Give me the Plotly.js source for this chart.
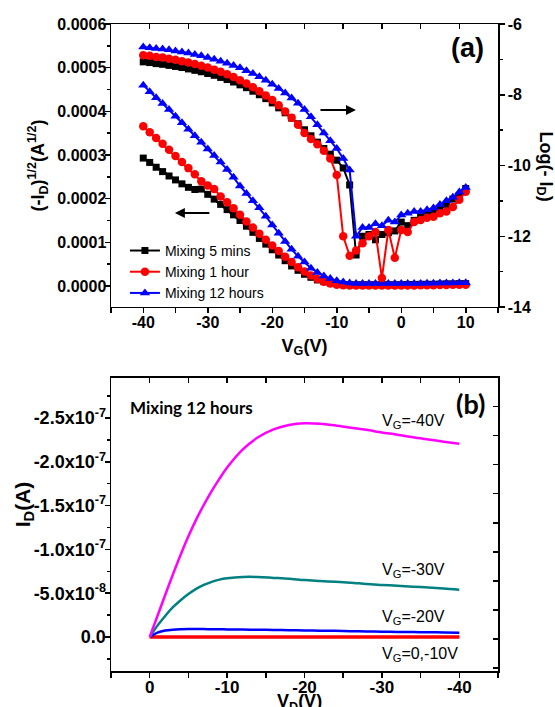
<!DOCTYPE html>
<html>
<head>
<meta charset="utf-8">
<script src="https://cdn.plot.ly/plotly-3.0.1.min.js"></script>
<style>html,body{margin:0;padding:0;background:#fff;}#chart{width:555px;height:707px;}</style>
</head>
<body>
<div id="chart"></div>
<script>
// ---------- Panel (a) data ----------
const vg = [-40,-39,-38,-37,-36,-35,-34,-33,-32,-31,-30,-29,-28,-27,-26,-25,-24,-23,-22,-21,-20,-19,-18,-17,-16,-15,-14,-13,-12,-11,-10,-9,-8,-7,-6,-5,-4,-3,-2,-1,0,1,2,3,4,5,6,7,8,9,10];
const seriesNames = ['Mixing 5 mins','Mixing 1 hour','Mixing 12 hours'];
// sqrt(-ID) in units of 1e-4 A^1/2
const sqrt5min = [2.93,2.83,2.72,2.62,2.52,2.43,2.34,2.26,2.21,2.22,2.10,1.99,1.87,1.75,1.63,1.50,1.37,1.23,1.09,0.96,0.83,0.71,0.58,0.46,0.36,0.27,0.20,0.14,0.10,0.07,0.05,0.035,0.03,0.03,0.03,0.03,0.03,0.03,0.03,0.03,0.03,0.035,0.035,0.04,0.04,0.04,0.045,0.05,0.05,0.055,0.055];
const sqrt1h = [3.66,3.52,3.39,3.26,3.12,2.98,2.84,2.70,2.56,2.40,2.30,2.22,2.05,1.92,1.78,1.63,1.48,1.34,1.20,1.06,0.93,0.80,0.67,0.55,0.43,0.33,0.24,0.16,0.10,0.06,0.03,0.02,0.01,0.01,0.01,0.01,0.01,0.01,0.01,0.01,0.015,0.015,0.015,0.02,0.02,0.02,0.025,0.025,0.03,0.03,0.03];
const sqrt12h = [4.60,4.45,4.31,4.18,4.04,3.89,3.74,3.59,3.44,3.29,3.14,2.99,2.84,2.67,2.49,2.29,2.12,1.95,1.79,1.60,1.40,1.21,1.02,0.84,0.68,0.55,0.41,0.31,0.23,0.17,0.12,0.09,0.07,0.06,0.06,0.06,0.06,0.06,0.06,0.06,0.06,0.06,0.06,0.06,0.065,0.065,0.07,0.07,0.07,0.075,0.075];
// log(-ID)
const log5min = [-7.07,-7.09,-7.12,-7.14,-7.17,-7.20,-7.23,-7.27,-7.31,-7.35,-7.40,-7.45,-7.51,-7.57,-7.64,-7.72,-7.80,-7.90,-8.00,-8.11,-8.23,-8.37,-8.51,-8.66,-8.82,-8.99,-9.16,-9.34,-9.52,-9.68,-9.85,-10.07,-10.55,-12.53,-12.0,-11.95,-12.1,-11.95,-11.9,-11.85,-11.6,-11.7,-11.55,-11.45,-11.4,-11.3,-11.2,-11.1,-10.95,-10.85,-10.65];
const log1h = [-6.88,-6.90,-6.93,-6.95,-6.98,-7.01,-7.05,-7.09,-7.13,-7.18,-7.23,-7.29,-7.35,-7.42,-7.50,-7.59,-7.68,-7.79,-7.90,-8.02,-8.15,-8.30,-8.47,-8.65,-8.85,-9.08,-9.25,-9.40,-9.58,-9.80,-10.27,-12.0,-12.55,-12.4,-12.2,-12.0,-11.88,-13.18,-11.82,-12.61,-11.82,-11.88,-11.6,-11.54,-11.48,-11.45,-11.35,-11.3,-11.17,-10.97,-10.74];
const log12h = [-6.65,-6.67,-6.69,-6.71,-6.73,-6.76,-6.79,-6.82,-6.86,-6.90,-6.95,-7.00,-7.05,-7.11,-7.17,-7.24,-7.32,-7.40,-7.49,-7.59,-7.70,-7.82,-7.95,-8.09,-8.24,-8.42,-8.62,-8.85,-9.08,-9.30,-9.52,-9.80,-10.13,-12.0,-11.75,-11.75,-11.65,-11.7,-11.55,-11.6,-11.4,-11.35,-11.3,-11.3,-11.25,-11.2,-11.1,-11.0,-10.9,-10.75,-10.62];
const aXTickVals = [-40,-30,-20,-10,0,10];
const aXTickText = ['-40','-30','-20','-10','0','10'];
const aY2TickVals = [-14,-12,-10,-8,-6];
const aY2TickText = ['-14','-12','-10','-8','-6'];

// ---------- Panel (b) data ----------
const vd = [0,-1,-2,-3,-4,-5,-6,-7,-8,-9,-10,-12,-14,-16,-18,-20,-22,-24,-26,-28,-30,-32,-34,-36,-38,-40];
const outputLabels = ['V<sub>G</sub>=-40V','V<sub>G</sub>=-30V','V<sub>G</sub>=-20V','V<sub>G</sub>=0,-10V'];
const id40 = [0,-0.24,-0.48,-0.715,-0.94,-1.15,-1.34,-1.51,-1.665,-1.805,-1.935,-2.14,-2.28,-2.37,-2.42,-2.44,-2.435,-2.415,-2.39,-2.365,-2.335,-2.31,-2.28,-2.255,-2.23,-2.205]; // 1e-7 A
const id30 = [0,-1.3,-2.4,-3.4,-4.2,-4.9,-5.5,-5.95,-6.3,-6.55,-6.7,-6.85,-6.85,-6.75,-6.65,-6.5,-6.4,-6.3,-6.2,-6.05,-5.95,-5.85,-5.75,-5.65,-5.55,-5.4]; // 1e-8 A
const id20 = [0,-0.5,-0.75,-0.84,-0.88,-0.9,-0.9,-0.9,-0.89,-0.88,-0.87,-0.85,-0.83,-0.8,-0.78,-0.75,-0.72,-0.7,-0.67,-0.64,-0.6,-0.58,-0.56,-0.54,-0.52,-0.5]; // 1e-8 A
const id10 = [0,-0.08,-0.1,-0.1,-0.1,-0.1,-0.1,-0.1,-0.1,-0.1,-0.1,-0.1,-0.1,-0.1,-0.1,-0.1,-0.1,-0.1,-0.1,-0.1,-0.1,-0.1,-0.1,-0.1,-0.1,-0.1]; // 1e-9 A
const id0 = [0,-0.02,-0.02,-0.02,-0.02,-0.02,-0.02,-0.02,-0.02,-0.02,-0.02,-0.02,-0.02,-0.02,-0.02,-0.02,-0.02,-0.02,-0.02,-0.02,-0.02,-0.02,-0.02,-0.02,-0.02,-0.02]; // 1e-9 A
const bXTickVals = [0,-10,-20,-30,-40];
const bXTickText = ['0','-10','-20','-30','-40'];
const bTickVals = [-2.5e-7,-2.0e-7,-1.5e-7,-1.0e-7,-5.0e-8,0];
const bTickText = ['-2.5x10<sup>-7</sup>','-2.0x10<sup>-7</sup>','-1.5x10<sup>-7</sup>','-1.0x10<sup>-7</sup>','-5.0x10<sup>-8</sup>','0.0'];

const FONT = "'Liberation Sans', Arial, sans-serif";
const CAL = "Lato, 'Open Sans', sans-serif";
const colors = ['#000000','#ff0000','#0000ff'];
const symbols = ['square','circle','triangle-up'];
const msizes = [7,8.5,9];
const sqrtSets = [sqrt5min, sqrt1h, sqrt12h];
const logSets = [log5min, log1h, log12h];

const traces = [];
for (let i = 0; i < 3; i++) {
  traces.push({
    x: vg, y: sqrtSets[i].map(v => v * 1e-4), xaxis: 'x', yaxis: 'y',
    type: 'scatter', mode: 'lines+markers', name: seriesNames[i], legendgroup: 'g' + i,
    line: {color: colors[i], width: 2}, marker: {symbol: symbols[i], size: msizes[i], color: colors[i]}
  });
}
for (let i = 0; i < 3; i++) {
  traces.push({
    x: vg, y: logSets[i], xaxis: 'x', yaxis: 'y2',
    type: 'scatter', mode: 'lines+markers', name: seriesNames[i], legendgroup: 'g' + i, showlegend: false,
    line: {color: colors[i], width: 2}, marker: {symbol: symbols[i], size: msizes[i], color: colors[i]}
  });
}
// empty helper traces so the frame / tick-only axes render
[['x3','y'],['x5','y'],['x','y5'],['x4','y3'],['x6','y3'],['x2','y6'],['x2','y4']].forEach(p =>
  traces.push({x: [], y: [], xaxis: p[0], yaxis: p[1], showlegend: false, hoverinfo: 'skip', type: 'scatter'}));

const bSets = [
  {y: id0.map(v => v * 1e-9), c: '#ff0000', w: 3},
  {y: id10.map(v => v * 1e-9), c: '#ff0000', w: 3},
  {y: id20.map(v => v * 1e-8), c: '#0000ff', w: 2.5},
  {y: id30.map(v => v * 1e-8), c: '#008080', w: 2.5},
  {y: id40.map(v => v * 1e-7), c: '#ff00ff', w: 2.5}
];
bSets.forEach(s => traces.push({
  x: vd, y: s.y, xaxis: 'x2', yaxis: 'y3', type: 'scatter', mode: 'lines',
  line: {color: s.c, width: s.w, shape: 'spline', smoothing: 0.8}, showlegend: false
}));

const tickF = {family: FONT, size: 16, color: '#000', weight: 'bold'};
const tickFb = {family: FONT, size: 18, color: '#000', weight: 'bold'};
const tickFbx = {family: FONT, size: 17, color: '#000', weight: 'bold'};
const frame = {showline: true, linecolor: '#000', linewidth: 1.5, showgrid: false, zeroline: false, tickcolor: '#000', tickwidth: 1.5};
const tickOnly = (extra) => Object.assign({}, frame, {showticklabels: false, ticks: 'outside', ticklen: 5}, extra);
const minorT = (m) => Object.assign({ticks: 'outside', ticklen: 3, tickcolor: '#000', tickwidth: 1.5}, m);
const labelOnly = {ticks: 'outside', ticklen: 0, tickcolor: 'rgba(0,0,0,0)'};

const layout = {
  width: 555, height: 707,
  margin: {l: 111, r: 57, t: 24, b: 36},
  paper_bgcolor: '#fff', plot_bgcolor: '#fff',
  font: {family: FONT, color: '#000'},
  showlegend: true,
  legend: {x: 0.036, y: 0.674, xanchor: 'left', yanchor: 'top', bgcolor: 'rgba(0,0,0,0)',
           font: {family: FONT, size: 14, color: '#000'}, itemwidth: 30, tracegroupgap: 0},
  // panel (a)
  xaxis: Object.assign({}, frame, labelOnly, {domain: [0, 1], anchor: 'y', range: [-45, 15], tickmode: 'array', tickvals: aXTickVals, ticktext: aXTickText,
    tickfont: tickF, title: {text: 'V<sub>G</sub>(V)', font: {family: FONT, size: 18, weight: 'bold', color: '#000'}, standoff: 9}}),
  xaxis5: tickOnly({overlaying: 'x', side: 'bottom', anchor: 'y', range: [-45, 15], tick0: 0, dtick: 5}),
  xaxis3: tickOnly({overlaying: 'x', side: 'top', anchor: 'y', range: [0, 10], tick0: 0, dtick: 1, ticks: 'inside'}),
  yaxis: Object.assign({}, frame, labelOnly, {domain: [0.5626, 1], anchor: 'x', range: [-0.000048, 0.0006], tick0: 0, dtick: 0.0001,
    tickformat: '.4f', tickfont: tickF,
    title: {text: '(-I<sub>D</sub>)<sup>1/2</sup>(A<sup>1/2</sup>)', font: {family: FONT, size: 18, weight: 'bold', color: '#000'}, standoff: 8}}),
  yaxis5: tickOnly({overlaying: 'y', side: 'left', anchor: 'x', range: [-0.000048, 0.0006], tick0: 0, dtick: 0.0001,
    minor: minorT({dtick: 0.00005, tick0: 0})}),
  yaxis2: Object.assign({}, frame, {overlaying: 'y', side: 'right', anchor: 'x', range: [-14, -6], tickmode: 'array', tickvals: aY2TickVals, ticktext: aY2TickText,
    ticks: 'outside', ticklen: 5, minor: minorT({tickmode: 'linear', dtick: 1, tick0: -14}), tickfont: tickF}),
  // panel (b)
  xaxis2: Object.assign({}, frame, labelOnly, {domain: [0, 1], anchor: 'y3', range: [5, -45], tickmode: 'array', tickvals: bXTickVals, ticktext: bXTickText,
    tickfont: tickFbx}),
  xaxis6: tickOnly({overlaying: 'x2', side: 'bottom', anchor: 'y3', range: [5, -45], tick0: 0, dtick: 5}),
  xaxis4: tickOnly({overlaying: 'x2', side: 'top', anchor: 'y3', range: [5, -45], tick0: 0, dtick: 5, ticks: 'inside'}),
  yaxis3: Object.assign({}, frame, labelOnly, {domain: [0, 0.4529], anchor: 'x2', range: [3.88e-8, -2.957e-7],
    tickmode: 'array', tickvals: bTickVals, ticktext: bTickText, tickfont: tickFb}),
  yaxis6: tickOnly({overlaying: 'y3', side: 'left', anchor: 'x2', range: [3.88e-8, -2.957e-7], tick0: 0, dtick: 5e-8,
    minor: minorT({tick0: 0, dtick: 2.5e-8})}),
  yaxis4: tickOnly({overlaying: 'y3', side: 'right', anchor: 'x2', range: [0, 10.086], tick0: 1.1016, dtick: 1, ticks: 'inside'}),
  annotations: [
    {xref: 'paper', yref: 'paper', x: 0.922, y: 0.963, text: '(a)', showarrow: false, xanchor: 'center', yanchor: 'middle',
     font: {family: FONT, size: 27, weight: 'bold', color: '#000'}},
    {xref: 'paper', yref: 'paper', x: 1.12, y: 0.779, text: 'Log(- I<sub>D</sub>)', textangle: 90, showarrow: false,
     xanchor: 'center', yanchor: 'middle', font: {family: FONT, size: 18, weight: 'bold', color: '#000'}},
    {xref: 'paper', yref: 'paper', x: 0.633, y: 0.867, ax: -37, ay: 0, axref: 'pixel', ayref: 'pixel', text: '',
     showarrow: true, arrowhead: 2, arrowsize: 1, arrowwidth: 2, arrowcolor: '#000'},
    {xref: 'paper', yref: 'paper', x: 0.165, y: 0.708, ax: 36, ay: 0, axref: 'pixel', ayref: 'pixel', text: '',
     showarrow: true, arrowhead: 2, arrowsize: 1, arrowwidth: 2, arrowcolor: '#000'},
    {xref: 'paper', yref: 'paper', x: 0.928, y: 0.414, text: '(b)', showarrow: false, xanchor: 'center', yanchor: 'middle',
     font: {family: CAL, size: 27, weight: 'bold', color: '#000'}},
    {xref: 'paper', yref: 'paper', x: 0.044, y: 0.408, text: 'Mixing 12 hours', showarrow: false, xanchor: 'left', yanchor: 'middle',
     font: {family: CAL, size: 17, weight: 'bold', color: '#000'}},
    {xref: 'paper', yref: 'paper', x: -0.226, y: 0.257, text: 'I<sub>D</sub>(A)', textangle: -90, showarrow: false,
     xanchor: 'center', yanchor: 'middle', font: {family: FONT, size: 21, weight: 'bold', color: '#000'}},
    {xref: 'paper', yref: 'paper', x: 0.487, y: -0.0294, text: 'V<sub>D</sub>(V)', showarrow: false, xanchor: 'center', yanchor: 'top',
     font: {family: FONT, size: 18, weight: 'bold', color: '#000'}, borderpad: 0},
    {xref: 'paper', yref: 'paper', x: 0.695, y: 0.385, text: outputLabels[0], showarrow: false, xanchor: 'left', yanchor: 'middle',
     font: {family: FONT, size: 16, color: '#000'}},
    {xref: 'paper', yref: 'paper', x: 0.695, y: 0.155, text: outputLabels[1], showarrow: false, xanchor: 'left', yanchor: 'middle',
     font: {family: FONT, size: 16, color: '#000'}},
    {xref: 'paper', yref: 'paper', x: 0.695, y: 0.083, text: outputLabels[2], showarrow: false, xanchor: 'left', yanchor: 'middle',
     font: {family: FONT, size: 16, color: '#000'}},
    {xref: 'paper', yref: 'paper', x: 0.695, y: 0.025, text: outputLabels[3], showarrow: false, xanchor: 'left', yanchor: 'middle',
     font: {family: FONT, size: 16, color: '#000'}}
  ]
};

Plotly.newPlot('chart', traces, layout, {staticPlot: true, displayModeBar: false});
</script>
</body>
</html>
